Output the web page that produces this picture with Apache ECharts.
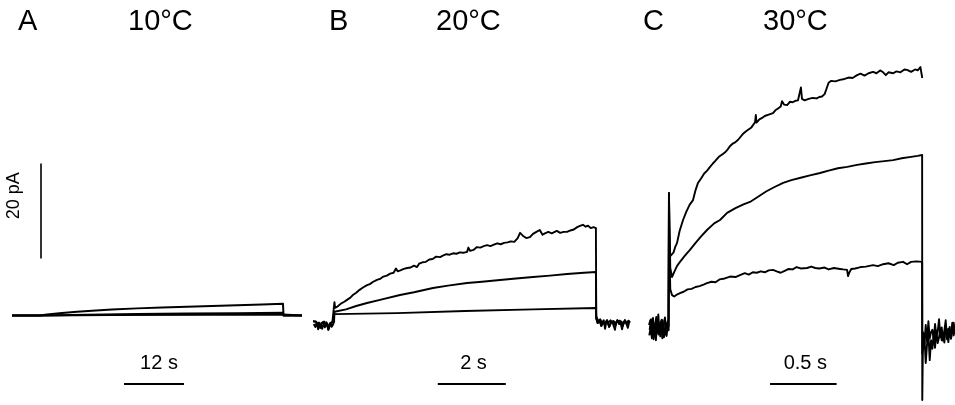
<!DOCTYPE html>
<html>
<head>
<meta charset="utf-8">
<script src="https://cdn.jsdelivr.net/npm/echarts@6/dist/echarts.min.js"></script>
<style>html,body{margin:0;padding:0;background:#fff}#c{width:955px;height:405px}</style>
</head>
<body>
<div id="c"></div>
<script>
// ---- Panel titles ----
const panelLetters = ['A', 'B', 'C'];
const panelTemps = ['10°C', '20°C', '30°C'];
// ---- Scale bar labels ----
const timeBarLabels = ['12 s', '2 s', '0.5 s'];
const currentBarLabel = '20 pA';

// ---- Panel A (10°C): time in s, current in pA ----
const aPre = [[0, 0], [5.6, 0]];
const aTop = [[7, 0.2], [10, 0.55], [13, 0.8], [16, 1.0], [20, 1.25], [25, 1.5], [30, 1.7], [35, 1.85], [40, 2.0], [45, 2.15], [50, 2.3], [54.2, 2.45]];
const aMid = [[15, 0.15], [25, 0.3], [35, 0.4], [45, 0.5], [54.2, 0.6]];
const aLow = [[20, 0.1], [40, 0.15], [54.2, 0.2]];
const aPost = [[54.3, 0], [58, 0]];

// ---- Panel B (20°C) ----
const bPre1 = [[0.03, -1.2], [0.08, -1.6], [0.12, -1.3], [0.16, -2.0], [0.2, -1.5], [0.24, -2.6], [0.28, -1.6], [0.32, -1.9], [0.36, -1.3], [0.4, -2.2], [0.44, -1.7], [0.48, -3.0], [0.52, -1.8], [0.56, -2.2], [0.6, -1.4], [0.64, -1.6]];
const bPre2 = [[0.05, -1.8], [0.1, -2.4], [0.14, -1.5], [0.18, -2.9], [0.22, -1.7], [0.26, -2.1], [0.3, -2.8], [0.34, -1.6], [0.38, -2.5], [0.42, -1.4], [0.46, -2.0], [0.5, -2.7], [0.54, -1.5], [0.58, -2.4], [0.62, -1.9], [0.65, -1.3]];
const bTop = [[0.66, 2.8], [0.68, 1.6], [0.75, 1.9], [0.85, 2.5], [0.95, 2.9], [1.05, 3.4], [1.12, 3.7], [1.2, 4.3], [1.3, 4.8], [1.4, 5.4], [1.5, 5.9], [1.62, 6.4], [1.7, 6.6], [1.8, 7.1], [1.91, 7.5], [2.0, 7.7], [2.1, 8.2], [2.2, 8.4], [2.3, 8.8], [2.4, 9.0], [2.47, 9.9], [2.52, 9.3], [2.6, 9.5], [2.7, 9.8], [2.8, 10.0], [2.9, 10.1], [3.0, 10.5], [3.09, 10.2], [3.15, 10.9], [3.25, 11.2], [3.35, 11.3], [3.45, 11.8], [3.55, 11.9], [3.65, 12.4], [3.77, 12.3], [3.85, 12.6], [3.95, 12.9], [4.05, 12.8], [4.15, 13.1], [4.25, 13.0], [4.35, 13.3], [4.45, 13.2], [4.56, 13.4], [4.6, 14.3], [4.65, 13.6], [4.75, 13.8], [4.85, 14.4], [4.95, 14.3], [5.05, 14.6], [5.15, 14.8], [5.25, 14.6], [5.35, 14.9], [5.45, 15.2], [5.55, 15.0], [5.65, 15.3], [5.75, 15.4], [5.85, 15.6], [5.95, 15.5], [6.05, 16.3], [6.12, 17.4], [6.2, 16.8], [6.3, 16.3], [6.41, 16.5], [6.5, 17.2], [6.6, 17.6], [6.7, 18.0], [6.78, 17.0], [6.85, 17.3], [6.95, 17.6], [7.05, 17.3], [7.1, 17.5], [7.2, 17.8], [7.3, 17.4], [7.4, 17.6], [7.5, 17.6], [7.6, 17.9], [7.7, 18.1], [7.8, 18.6], [7.9, 18.9], [7.97, 19.1], [8.05, 18.7], [8.12, 18.9], [8.2, 18.4], [8.28, 18.6], [8.35, 18.4]];
const bMid = [[0.66, 0.8], [0.676, 0.53], [1.0, 1.3], [1.3, 2.0], [1.618, 2.63], [2.0, 3.3], [2.588, 4.32], [3.0, 4.9], [3.559, 5.79], [4.0, 6.3], [4.559, 6.84], [5.0, 7.1], [5.53, 7.47], [6.0, 7.8], [6.5, 8.1], [7.0, 8.4], [7.5, 8.74], [8.0, 9.0], [8.35, 9.16]];
const bLow = [[0.66, 0.3], [0.676, 0.1], [2.5, 0.5], [4.5, 0.95], [6.5, 1.3], [8.35, 1.58]];
const bPost1 = [[8.36, -0.2], [8.42, -1.2], [8.48, -0.8], [8.53, -1.6], [8.58, -1.0], [8.62, -2.8], [8.66, -1.2], [8.72, -1.5], [8.78, -1.0], [8.85, -1.7], [8.91, -3.0], [8.95, -1.3], [9.0, -1.6], [9.06, -1.1], [9.12, -2.9], [9.16, -1.4], [9.22, -1.2], [9.29, -2.6], [9.33, -1.3]];
const bPost2 = [[8.36, -0.6], [8.4, -1.6], [8.46, -1.1], [8.51, -2.2], [8.56, -1.3], [8.61, -1.9], [8.68, -1.0], [8.74, -2.4], [8.8, -1.4], [8.87, -1.2], [8.93, -2.0], [8.98, -1.0], [9.04, -1.8], [9.1, -1.3], [9.14, -2.2], [9.2, -1.0], [9.26, -1.8], [9.31, -1.1], [9.35, -1.5]];

// ---- Panel C (30°C) ----
const cPre1 = [[0.03, -2.0], [0.04, -1.0], [0.05, -3.5], [0.06, -0.5], [0.07, -4.2], [0.08, -1.5], [0.09, -2.8], [0.1, 0.2], [0.11, -3.9], [0.12, -1.2], [0.13, -4.8], [0.14, -2.0], [0.15, -0.4], [0.16, -3.2], [0.17, -1.6], [0.178, -2.2]];
const cPre2 = [[0.035, -3.0], [0.045, -0.8], [0.055, -2.5], [0.065, -5.0], [0.075, -2.2], [0.085, -0.3], [0.095, -3.6], [0.105, -1.8], [0.115, -4.4], [0.125, -0.9], [0.135, -2.9], [0.145, -4.0], [0.155, -1.4], [0.165, -2.6], [0.175, -0.8]];
const cPre3 = [[0.032, -4.2], [0.042, -2.6], [0.052, -4.8], [0.062, -1.9], [0.072, -3.0], [0.082, -5.2], [0.092, -1.1], [0.102, -4.0], [0.112, -2.3], [0.122, -3.4], [0.132, -1.0], [0.142, -4.6], [0.152, -3.0], [0.162, -4.3], [0.172, -2.0], [0.178, -3.1]];
const cTop = [[0.18, 25.8], [0.185, 14.0], [0.19, 12.5], [0.203, 12.1], [0.215, 13.3], [0.228, 14.5], [0.241, 15.3], [0.26, 17.8], [0.286, 20.1], [0.31, 21.8], [0.335, 23.3], [0.361, 24.3], [0.38, 26.4], [0.398, 27.9], [0.42, 28.8], [0.445, 29.9], [0.467, 30.5], [0.489, 31.3], [0.51, 32.0], [0.53, 32.6], [0.555, 33.4], [0.58, 33.9], [0.6, 34.3], [0.617, 34.8], [0.64, 35.7], [0.66, 36.2], [0.68, 36.5], [0.7, 37.0], [0.714, 37.4], [0.735, 38.2], [0.755, 38.7], [0.775, 39.1], [0.8, 39.6], [0.827, 40.7], [0.833, 42.2], [0.838, 40.6], [0.86, 41.3], [0.88, 41.6], [0.9, 42.0], [0.93, 42.3], [0.962, 42.6], [0.98, 43.2], [1.0, 43.6], [1.02, 44.0], [1.03, 45.1], [1.045, 44.4], [1.068, 44.3], [1.09, 45.0], [1.11, 44.9], [1.13, 45.2], [1.15, 45.3], [1.165, 45.4], [1.172, 48.0], [1.18, 45.6], [1.2, 45.3], [1.23, 45.6], [1.26, 45.8], [1.29, 45.7], [1.31, 46.0], [1.33, 46.1], [1.35, 46.6], [1.365, 47.8], [1.38, 49.0], [1.4, 49.4], [1.43, 49.3], [1.466, 49.6], [1.5, 49.8], [1.53, 50.1], [1.56, 50.0], [1.594, 50.6], [1.62, 50.9], [1.65, 50.5], [1.68, 51.0], [1.714, 51.3], [1.74, 51.0], [1.767, 51.6], [1.79, 51.2], [1.81, 50.6], [1.83, 51.2], [1.865, 51.0], [1.89, 51.4], [1.92, 51.2], [1.95, 51.8], [1.97, 51.7], [2.0, 51.3], [2.03, 51.8], [2.05, 51.6], [2.07, 52.3], [2.083, 52.1], [2.084, 50.0]];
const cMid = [[0.18, 25.8], [0.19, 10.0], [0.203, 8.1], [0.22, 9.2], [0.24, 10.4], [0.263, 11.3], [0.3, 12.6], [0.338, 13.8], [0.38, 15.3], [0.42, 16.6], [0.466, 18.0], [0.52, 19.4], [0.564, 20.1], [0.617, 21.6], [0.68, 22.6], [0.74, 23.4], [0.789, 23.9], [0.85, 25.0], [0.91, 26.1], [0.97, 27.0], [1.038, 27.9], [1.1, 28.5], [1.17, 29.0], [1.24, 29.5], [1.316, 30.0], [1.38, 30.5], [1.45, 31.0], [1.52, 31.3], [1.594, 31.7], [1.66, 32.0], [1.73, 32.3], [1.8, 32.5], [1.865, 32.7], [1.93, 33.1], [2.0, 33.4], [2.05, 33.6], [2.083, 33.8], [2.084, -17.8]];
const cLow = [[0.18, 20.0], [0.19, 5.5], [0.203, 4.3], [0.22, 4.0], [0.24, 4.4], [0.263, 4.7], [0.29, 5.0], [0.32, 5.5], [0.35, 5.6], [0.38, 6.0], [0.41, 6.2], [0.44, 6.5], [0.466, 6.8], [0.5, 7.1], [0.53, 7.0], [0.56, 7.6], [0.6, 7.8], [0.64, 8.2], [0.68, 8.1], [0.714, 8.5], [0.75, 8.9], [0.78, 8.6], [0.81, 9.1], [0.84, 9.0], [0.87, 9.3], [0.9, 9.1], [0.93, 9.5], [0.962, 9.6], [0.99, 9.3], [1.02, 9.0], [1.05, 9.4], [1.08, 9.8], [1.11, 9.7], [1.14, 10.2], [1.17, 9.9], [1.218, 10.0], [1.25, 10.3], [1.28, 10.0], [1.31, 9.9], [1.35, 10.1], [1.38, 9.7], [1.42, 10.0], [1.466, 9.8], [1.49, 9.7], [1.519, 9.6], [1.526, 8.3], [1.535, 9.0], [1.55, 9.8], [1.58, 9.9], [1.62, 10.2], [1.66, 10.3], [1.714, 10.6], [1.75, 10.4], [1.79, 10.8], [1.83, 11.0], [1.87, 10.6], [1.9, 11.1], [1.94, 11.3], [1.97, 10.8], [2.0, 11.3], [2.04, 11.4], [2.083, 11.3], [2.084, -8.0]];
const cPost1 = [[2.09, -3.5], [2.1, -6.0], [2.11, -2.0], [2.12, -5.5], [2.13, -1.2], [2.14, -4.8], [2.15, -3.5], [2.16, -3.0], [2.17, -5.2], [2.18, -1.8], [2.19, -4.3], [2.2, -3.4], [2.21, -0.8], [2.22, -4.6], [2.23, -2.5], [2.24, -5.3], [2.25, -3.2], [2.26, -1.0], [2.27, -5.0], [2.28, -2.8], [2.29, -4.5], [2.3, -3.6], [2.31, -1.5], [2.32, -4.2], [2.33, -2.7]];
const cPost2 = [[2.09, -8.0], [2.1, -4.5], [2.11, -10.0], [2.12, -6.0], [2.13, -3.8], [2.14, -9.4], [2.15, -5.2], [2.16, -7.0], [2.17, -4.0], [2.18, -6.8], [2.19, -3.2], [2.2, -5.8], [2.21, -4.6], [2.22, -2.8], [2.23, -5.2], [2.24, -3.6], [2.25, -5.7], [2.26, -2.5], [2.27, -3.4], [2.28, -5.6], [2.29, -2.4], [2.3, -4.9], [2.31, -3.4], [2.32, -1.5], [2.33, -3.6]];

// ---- Scale bars (pA / s) ----
const currentBar = [[5.8, 12], [5.8, 32]];
const timeBarA = [[22.4, -14.4], [34.4, -14.4]];
const timeBarB = [[3.7, -14.4], [5.7, -14.4]];
const timeBarC = [[0.94, -14.4], [1.44, -14.4]];
const timeLabelPos = [[29.4, -10.2], [4.75, -10.2], [1.205, -10.2]];
const currentLabelPos = [0.5, 25.2];

const FONT = "'Liberation Sans', Arial, Helvetica, sans-serif";
const chart = echarts.init(document.getElementById('c'), null, { renderer: 'canvas' });

function trace(gi, data, w) {
  return {
    type: 'line', xAxisIndex: gi, yAxisIndex: gi, data: data,
    showSymbol: false, symbol: 'none', clip: false, animation: false,
    lineStyle: { color: '#000', width: w || 1.9, join: 'round' }, z: 2
  };
}
function label(gi, pos, text, size, rot) {
  return {
    type: 'scatter', xAxisIndex: gi, yAxisIndex: gi, symbol: 'circle', symbolSize: 1, animation: false,
    itemStyle: { color: '#ffffff', opacity: 1 },
    data: [{ value: pos, name: text }],
    z: 5,
    label: {
      show: true, position: 'inside', formatter: '{b}', color: '#000000', opacity: 1,
      textBorderWidth: 0, textShadowBlur: 0,
      fontSize: size, fontFamily: FONT, rotate: rot || 0
    }
  };
}

const titleLeft = [18, 128, 329, 436, 643, 763];
const titleTexts = [panelLetters[0], panelTemps[0], panelLetters[1], panelTemps[1], panelLetters[2], panelTemps[2]];

const option = {
  backgroundColor: '#fff',
  animation: false,
  title: titleTexts.map((t, i) => ({
    text: t, left: titleLeft[i], top: 7, padding: 0,
    textStyle: { fontSize: 29, fontWeight: 'normal', color: '#000', fontFamily: FONT }
  })),
  grid: [
    { left: 12, top: 21, width: 290, height: 380 },
    { left: 312, top: 21, width: 323, height: 380 },
    { left: 645, top: 21, width: 310, height: 380 }
  ],
  xAxis: [
    { gridIndex: 0, type: 'value', min: 0, max: 58, show: false },
    { gridIndex: 1, type: 'value', min: 0, max: 9.5, show: false },
    { gridIndex: 2, type: 'value', min: 0, max: 2.33, show: false }
  ],
  yAxis: [0, 1, 2].map(i => ({ gridIndex: i, type: 'value', min: -18, max: 62, show: false })),
  series: [
    trace(0, aPre.concat(aLow, aPost), 2),
    trace(0, aPre.concat(aMid, aPost), 2),
    trace(0, aPre.concat(aTop, aPost), 2),
    trace(1, bPre1.concat(bTop, bPost1)),
    trace(1, bPre2.concat(bMid, bPost2)),
    trace(1, bPre1.concat(bLow, bPost2)),
    trace(2, cPre1.concat(cTop)),
    trace(2, cPre2.concat(cMid, cPost1)),
    trace(2, cPre3.concat(cLow, cPost2)),
    trace(0, currentBar, 1.6),
    trace(0, timeBarA, 2),
    trace(1, timeBarB, 2),
    trace(2, timeBarC, 2),
    label(0, timeLabelPos[0], timeBarLabels[0], 20),
    label(1, timeLabelPos[1], timeBarLabels[1], 20),
    label(2, timeLabelPos[2], timeBarLabels[2], 20),
    label(0, currentLabelPos, currentBarLabel, 18, 90)
  ]
};
chart.setOption(option);
</script>
</body>
</html>
